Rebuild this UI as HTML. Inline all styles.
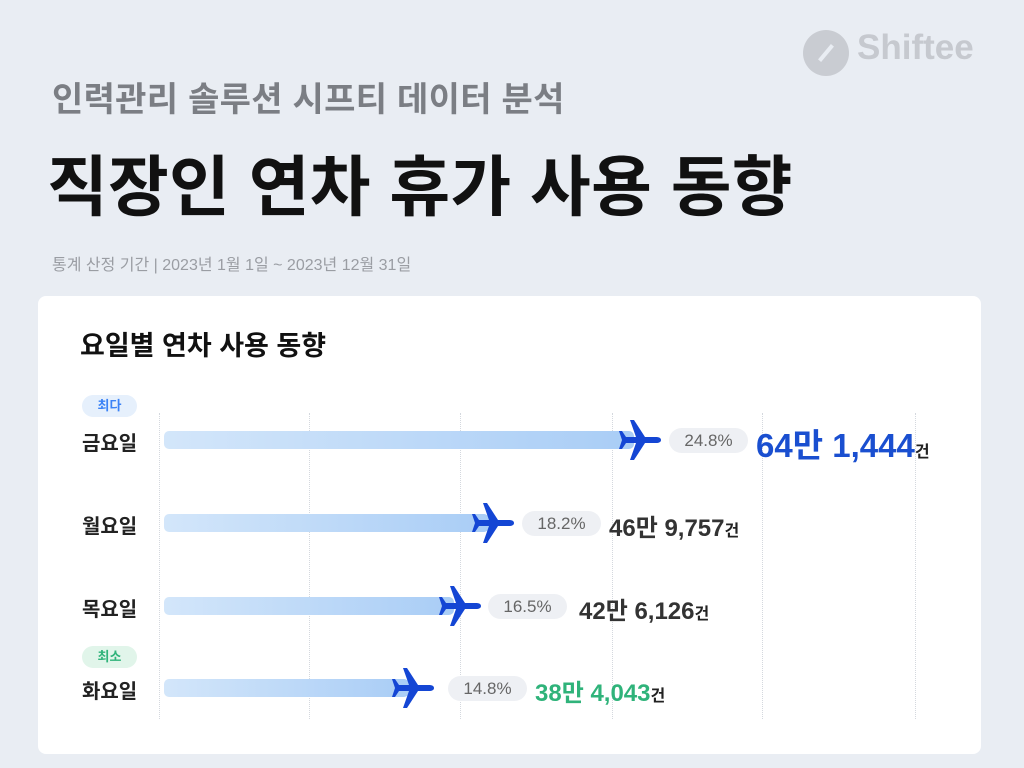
<!DOCTYPE html>
<html><head><meta charset="utf-8"><style>
*{margin:0;padding:0;box-sizing:border-box}
body{width:1024px;height:768px;background:#e9edf3;position:relative;overflow:hidden;font-family:"Liberation Sans","Noto Sans CJK KR",sans-serif}
.a{position:absolute;white-space:nowrap}
.card{position:absolute;left:38px;top:296px;width:943px;height:458px;background:#fff;border-radius:8px}
.grid{position:absolute;top:413px;height:306px;border-left:1px dotted #d4d8de}
.bar{position:absolute;left:164px;height:18px;border-radius:5px;background:linear-gradient(90deg,#d3e6fa,#a9cdf6)}
.lab{position:absolute;left:82px;font-size:20px;font-weight:bold;color:#222}
.pill{position:absolute;width:79px;height:25px;border-radius:13px;background:#eef0f4;color:#666;font-size:17px;text-align:center;line-height:25px}
.val{position:absolute;font-size:24px;font-weight:bold;color:#333}
.val small{font-size:16px;color:#222}
.badge{position:absolute;left:82px;width:55px;height:22px;border-radius:11px;font-size:13px;font-weight:bold;text-align:center;line-height:22px}
svg.p{position:absolute;width:46px;height:46px}
</style></head><body>
<div class="a" style="left:803px;top:30px;width:46px;height:46px;border-radius:50%;background:#c9ccd2"></div>
<div class="a" style="left:816px;top:51px;width:20px;height:4px;background:#e9edf3;transform:rotate(-50deg)"></div>
<div class="a" style="left:857px;top:28px;font-size:35px;font-weight:bold;color:#c6c9cf">Shiftee</div>
<div class="a" style="left:52px;top:72px;font-size:34px;font-weight:bold;color:#7b7e84;letter-spacing:0.3px">인력관리 솔루션 시프티 데이터 분석</div>
<div class="a" style="left:47px;top:134px;font-size:66px;font-weight:bold;color:#111;letter-spacing:0.3px">직장인 연차 휴가 사용 동향</div>
<div class="a" style="left:52px;top:251px;font-size:16px;color:#9a9da3">통계 산정 기간 | 2023년 1월 1일 ~ 2023년 12월 31일</div>
<div class="card"></div>
<div class="a" style="left:80px;top:324px;font-size:27px;font-weight:bold;color:#111">요일별 연차 사용 동향</div>
<div class="grid" style="left:159px"></div><div class="grid" style="left:309px"></div><div class="grid" style="left:460px"></div><div class="grid" style="left:612px"></div><div class="grid" style="left:762px"></div><div class="grid" style="left:915px"></div>
<div class="badge" style="top:395px;background:#e6f0fc;color:#3b82f6">최다</div>
<div class="badge" style="top:646px;background:#e1f5ea;color:#2fb37a">최소</div>
<div class="lab" style="top:427px">금요일</div>
<div class="lab" style="top:510px">월요일</div>
<div class="lab" style="top:593px">목요일</div>
<div class="lab" style="top:675px">화요일</div>
<div class="bar" style="top:431px;width:470px"></div>
<div class="bar" style="top:514px;width:325px"></div>
<div class="bar" style="top:597px;width:290px"></div>
<div class="bar" style="top:679px;width:245px"></div>
<svg class="p" style="left:617px;top:417px" viewBox="0 0 46 46"><path fill="#1446d4" d="M44 23c0-2-2-3-5-3H28L17 3h-4l6 17H9L5 14H2l3 9-3 9h3l4-6h10l-6 17h4l11-17h11c3 0 5-1 5-3z"/></svg>
<svg class="p" style="left:470px;top:500px" viewBox="0 0 46 46"><path fill="#1446d4" d="M44 23c0-2-2-3-5-3H28L17 3h-4l6 17H9L5 14H2l3 9-3 9h3l4-6h10l-6 17h4l11-17h11c3 0 5-1 5-3z"/></svg>
<svg class="p" style="left:437px;top:583px" viewBox="0 0 46 46"><path fill="#1446d4" d="M44 23c0-2-2-3-5-3H28L17 3h-4l6 17H9L5 14H2l3 9-3 9h3l4-6h10l-6 17h4l11-17h11c3 0 5-1 5-3z"/></svg>
<svg class="p" style="left:390px;top:665px" viewBox="0 0 46 46"><path fill="#1446d4" d="M44 23c0-2-2-3-5-3H28L17 3h-4l6 17H9L5 14H2l3 9-3 9h3l4-6h10l-6 17h4l11-17h11c3 0 5-1 5-3z"/></svg>
<div class="pill" style="left:669px;top:428px">24.8%</div>
<div class="pill" style="left:522px;top:511px">18.2%</div>
<div class="pill" style="left:488px;top:594px">16.5%</div>
<div class="pill" style="left:448px;top:676px">14.8%</div>
<div class="val" style="left:756px;top:419px;font-size:33px;color:#1a4fd0">64만 1,444<small>건</small></div>
<div class="val" style="left:609px;top:508px">46만 9,757<small>건</small></div>
<div class="val" style="left:579px;top:591px">42만 6,126<small>건</small></div>
<div class="val" style="left:535px;top:673px;color:#2fb37a">38만 4,043<small>건</small></div>
</body></html>
